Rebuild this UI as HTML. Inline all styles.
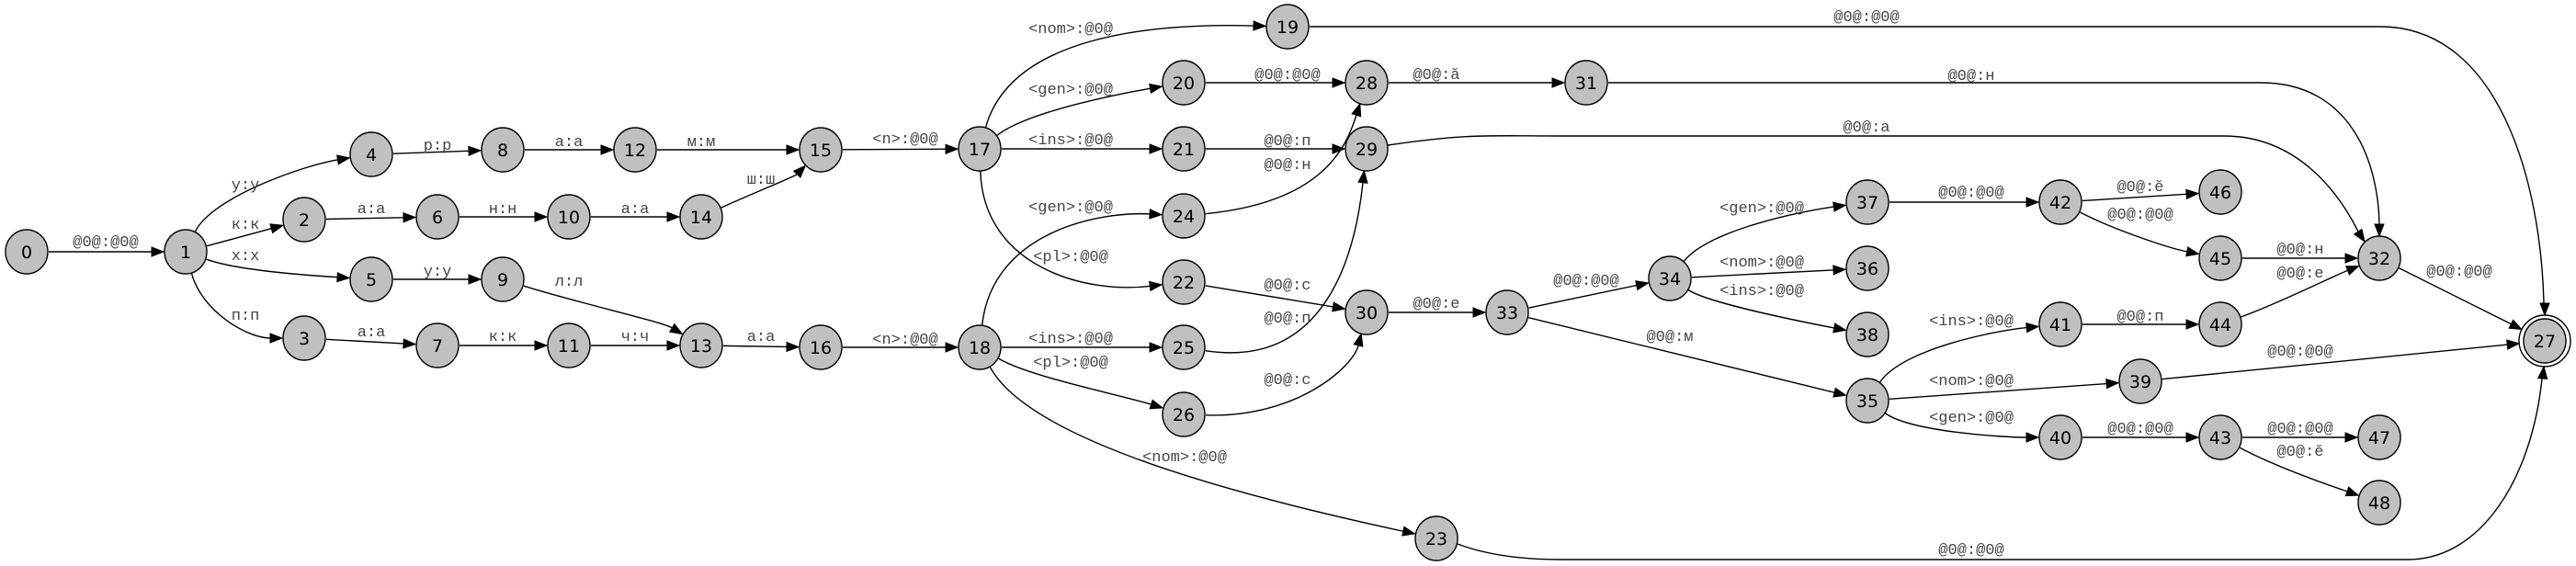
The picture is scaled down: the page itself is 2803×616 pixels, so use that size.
<!DOCTYPE html>
<html><head><meta charset="utf-8"><style>
html,body{margin:0;padding:0;background:#fff;}
svg{display:block}
.l{font-family:"Liberation Mono",monospace;font-size:17px;fill:#444;text-anchor:middle}
.n{font-family:"DejaVu Sans","Liberation Sans",sans-serif;font-size:19px;fill:#000;text-anchor:middle}
</style></head><body>
<svg id="s" width="2803" height="616" xmlns="http://www.w3.org/2000/svg"></svg>
<script>
const N={0:[29,274],1:[202,274],4:[404,168],8:[547,163],12:[691,163],15:[893,163],2:[331,239],6:[476,236],10:[619,236],14:[763,236],
5:[404,304],9:[547,304],3:[331,368],7:[476,376],11:[619,376],13:[763,376],16:[893,378],
17:[1066,162],19:[1401,29],20:[1288,90],28:[1487,90],31:[1726,90],21:[1288,162],29:[1487,162],24:[1288,235],22:[1288,307],
30:[1487,340],33:[1640,340],34:[1817,303],18:[1066,378],25:[1288,378],26:[1288,451],23:[1563,586],
37:[2032,220],42:[2242,220],46:[2416,209],45:[2416,281],32:[2589,281],27:[2769,371],36:[2032,292],38:[2032,364],
41:[2242,353],44:[2416,353],35:[2032,436],39:[2329,415],40:[2242,476],43:[2416,476],47:[2589,476],48:[2589,547]};
const E=[
[0,1,"@0@:@0@",115,263],[1,4,"у:у",267,201,[230,215],[330,180]],[1,2,"к:к",267,244],[1,5,"х:х",267,278,[260,295],[340,300]],
[1,3,"п:п",267,343,[220,340],[270,368]],[4,8,"р:р",476,158],[8,12,"а:а",619,154],[12,15,"м:м",763,154],
[2,6,"а:а",404,227],[6,10,"н:н",547,227],[10,14,"а:а",691,227],[14,15,"ш:ш",828,195,[820,210],[865,192]],
[5,9,"у:у",476,295],[9,13,"л:л",619,306,[630,330],[720,350]],[3,7,"а:а",404,361],[7,11,"к:к",547,366],[11,13,"ч:ч",691,366],
[13,16,"а:а",828,366],[15,17,"<n>:@0@",985,151],[16,18,"<n>:@0@",985,369],
[17,19,"<nom>:@0@",1165,31,[1100,40],[1250,25]],[17,20,"<gen>:@0@",1165,97,[1120,120],[1230,100]],[17,21,"<ins>:@0@",1165,152],
[18,24,"<gen>:@0@",1165,225,[1080,250],[1200,230]],[17,22,"<pl>:@0@",1165,279,[1070,290],[1180,320]],
[18,25,"<ins>:@0@",1165,368],[18,26,"<pl>:@0@",1165,394,[1120,410],[1220,430]],[18,23,"<nom>:@0@",1289,497,[1120,480],[1350,540]],
[20,28,"@0@:@0@",1401,81],[28,31,"@0@:ă",1563,81],[21,29,"@0@:п",1401,153],[24,28,"@0@:н",1401,179,[1440,220],[1465,160]],
[22,30,"@0@:с",1401,310],[25,29,"@0@:п",1401,346,[1430,400],[1472,300]],[26,30,"@0@:с",1401,413,[1410,455],[1472,400]],
[30,33,"@0@:е",1563,330],[33,34,"@0@:@0@",1726,305],[33,35,"@0@:м",1817,366],
[34,37,"<gen>:@0@",1917,226,[1860,250],[1960,230]],[34,36,"<nom>:@0@",1917,285],[34,38,"<ins>:@0@",1917,316,[1860,330],[1960,350]],
[37,42,"@0@:@0@",2145,209],[42,46,"@0@:ĕ",2329,203],[42,45,"@0@:@0@",2329,233,[2300,250],[2360,270]],
[45,32,"@0@:н",2503,271],[44,32,"@0@:е",2503,297,[2480,330],[2540,300]],[32,27,"@0@:@0@",2676,295],
[35,41,"<ins>:@0@",2145,349,[2070,380],[2170,360]],[41,44,"@0@:п",2329,344],[39,27,"@0@:@0@",2503,382],
[35,39,"<nom>:@0@",2145,414],[35,40,"<gen>:@0@",2145,454,[2080,470],[2180,476]],[40,43,"@0@:@0@",2329,466],
[43,47,"@0@:@0@",2503,466],[43,48,"@0@:ĕ",2503,491,[2480,510],[2540,530]]];
const C=[
["M1425,29 L2590,29 C2720,29 2765,200 2768,330",[2769,343],[0,1],"@0@:@0@",2031,18],
["M1750,90 L2460,90 C2560,90 2588,180 2589,244",[2589,257],[0,1],"@0@:н",2145,82],
["M1510,158 C1600,145 1620,148 1700,148 L2420,148 C2500,148 2545,210 2566,252",[2573,263],[0.55,0.83],"@0@:а",2031,138],
["M1586,592 C1620,605 1660,609 1700,609 L2620,609 C2700,609 2755,520 2766,412",[2768,399],[0.1,-1],"@0@:@0@",2145,598]];
let o="";const R=24,L=13,W=5;
function u(a,b){const dx=b[0]-a[0],dy=b[1]-a[1],d=Math.hypot(dx,dy);return[dx/d,dy/d];}
function arrow(t,v){const b=[t[0]-L*v[0],t[1]-L*v[1]];return `<polygon points="${t[0]},${t[1]} ${b[0]-W*v[1]},${b[1]+W*v[0]} ${b[0]+W*v[1]},${b[1]-W*v[0]}" fill="#000" stroke="#000"/>`;}
for(const e of E){const a=N[e[0]],b=N[e[1]];const rb=e[1]==27?28:R;let c1=e[5]||b,c2=e[6]||a;
const v1=u(a,c1),v2=u(c2,b);const s=[a[0]+R*v1[0],a[1]+R*v1[1]];const t=[b[0]-rb*v2[0],b[1]-rb*v2[1]];const q=[t[0]-L*v2[0],t[1]-L*v2[1]];
if(e[5])o+=`<path d="M${s} C${e[5]} ${e[6]} ${q}" fill="none" stroke="#000" stroke-width="1.4"/>`;
else o+=`<path d="M${s} L${q}" fill="none" stroke="#000" stroke-width="1.4"/>`;
o+=arrow(t,v2);o+=`<text class="l" x="${e[3]}" y="${e[4]+5}">${e[2].replace(/</g,"&lt;").replace(/>/g,"&gt;")}</text>`;}
for(const c of C){const v=c[2],d=Math.hypot(v[0],v[1]);const vv=[v[0]/d,v[1]/d];
o+=`<path d="${c[0]}" fill="none" stroke="#000" stroke-width="1.4"/>`+arrow(c[1],vv)+`<text class="l" x="${c[4]}" y="${c[5]+5}">${c[3]}</text>`;}
for(const k in N){const p=N[k];if(k==27)o+=`<circle cx="${p[0]}" cy="${p[1]}" r="28" fill="none" stroke="#000" stroke-width="1.4"/>`;
o+=`<ellipse cx="${p[0]}" cy="${p[1]}" rx="23" ry="24" fill="#c0c0c0" stroke="#000" stroke-width="1.4"/><text class="n" x="${p[0]}" y="${p[1]+7}">${k}</text>`;}
document.getElementById("s").innerHTML=o;
</script>
</body></html>
